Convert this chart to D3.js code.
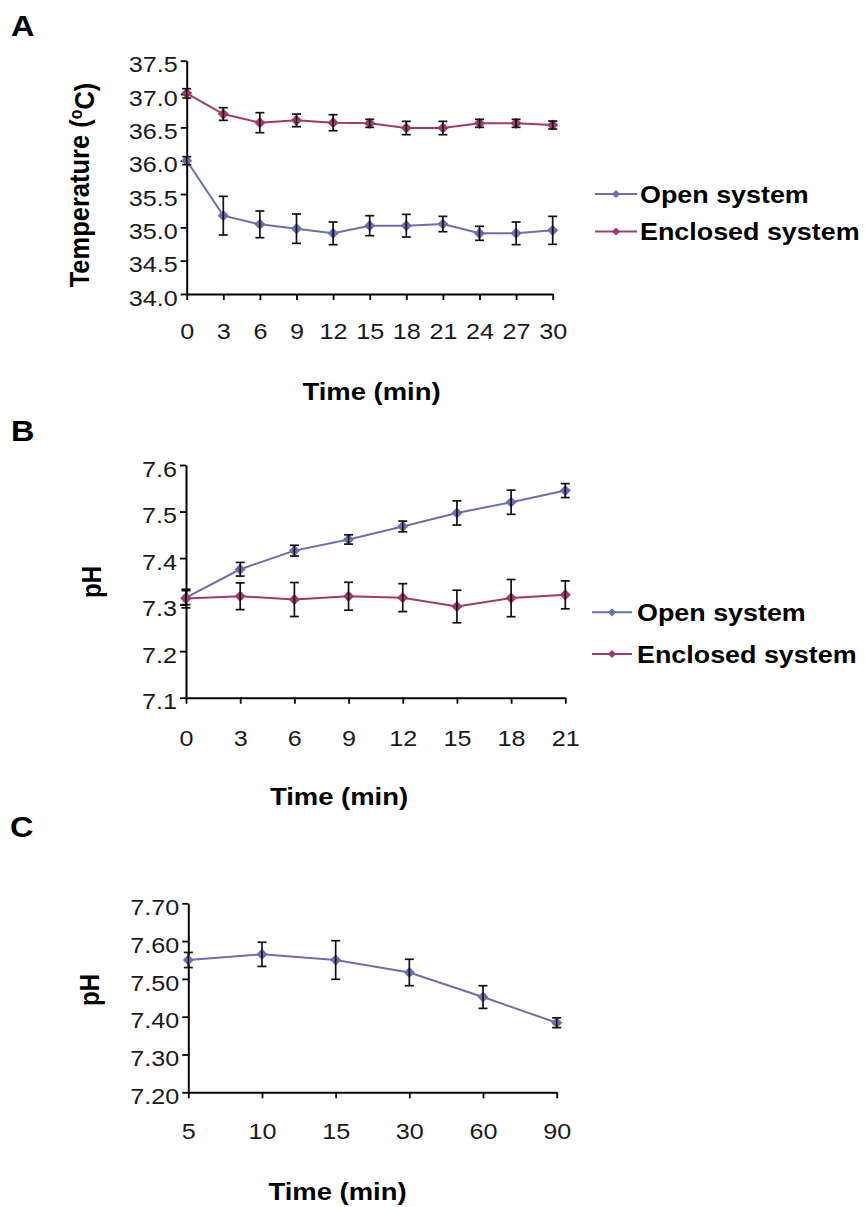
<!DOCTYPE html>
<html>
<head>
<meta charset="utf-8">
<script src="https://cdn.jsdelivr.net/npm/d3@7"></script>
<style>
  html, body { margin: 0; padding: 0; background: #fff; }
  svg { display: block; }
</style>
</head>
<body>
<svg id="chart" width="865" height="1207"></svg>
<script>
// ---------------- DATA ----------------
const timeA = ["0","3","6","9","12","15","18","21","24","27","30"];
const tempOpen = [36.0, 35.175, 35.045, 34.98, 34.91, 35.025, 35.025, 35.05, 34.91, 34.91, 34.955];
const tempOpenErr = [0.06, 0.29, 0.20, 0.22, 0.17, 0.15, 0.17, 0.115, 0.105, 0.17, 0.21];
const tempEnclosed = [37.01, 36.70, 36.57, 36.605, 36.57, 36.56, 36.49, 36.49, 36.56, 36.56, 36.535];
const tempEnclosedErr = [0.07, 0.095, 0.15, 0.095, 0.12, 0.06, 0.10, 0.10, 0.06, 0.06, 0.06];
const tempTicks = [34.0, 34.5, 35.0, 35.5, 36.0, 36.5, 37.0, 37.5];

const timeB = ["0","3","6","9","12","15","18","21"];
const phOpen = [7.315, 7.376, 7.416, 7.440, 7.468, 7.497, 7.520, 7.545];
const phOpenErr = [0.015, 0.0147, 0.0115, 0.010, 0.0115, 0.026, 0.026, 0.015];
const phEnclosed = [7.313, 7.318, 7.311, 7.318, 7.315, 7.296, 7.314, 7.321];
const phEnclosedErr = [0.02, 0.0287, 0.0365, 0.030, 0.030, 0.035, 0.040, 0.030];
const phTicksB = [7.1, 7.2, 7.3, 7.4, 7.5, 7.6];

const timeC = ["5","10","15","30","60","90"];
const phC = [7.550, 7.565, 7.550, 7.517, 7.452, 7.384];
const phCErr = [0.020, 0.032, 0.051, 0.035, 0.030, 0.013];
const phTicksC = [7.20, 7.30, 7.40, 7.50, 7.60, 7.70];

const seriesNames = ["Open system", "Enclosed system"];
// --------------------------------------

const FONT = "'Liberation Sans', Arial, Helvetica, sans-serif";
const SX = 1.12;
const COL_OPEN = "#6b6fae";
const COL_ENC = "#a3386c";
const svg = d3.select("#chart");

function panel(cfg) {
  const g = svg.append("g");
  const x = d3.scalePoint().domain(cfg.cats).range(cfg.xr).padding(0);
  const y = d3.scaleLinear().domain(cfg.yd).range(cfg.yr);

  // axes
  const yAxis = d3.axisLeft(y).tickValues(cfg.ticks).tickFormat(d3.format(cfg.fmt))
    .tickSize(6).tickSizeOuter(0).tickPadding(3);
  const ya = g.append("g").attr("transform", `translate(${cfg.xr[0]},0)`).call(yAxis);
  ya.selectAll("text").attr("dy", "0.5em").attr("x", -9 / SX)
    .attr("transform", `scale(${SX},1)`)
    .style("font-family", FONT).style("font-size", "22.5px").attr("fill", "#1a1a1a");
  const xAxis = d3.axisBottom(x).tickSize(6).tickSizeOuter(0).tickPadding(cfg.xpad);
  const xa = g.append("g").attr("transform", `translate(0,${cfg.yr[0]})`).call(xAxis);
  xa.selectAll("text").attr("transform", `scale(${SX},1)`)
    .attr("x", 0)
    .style("font-family", FONT).style("font-size", "22.5px").attr("fill", "#1a1a1a");
  [ya, xa].forEach(a => {
    a.select(".domain").attr("stroke", "#000").attr("stroke-width", 2);
    a.selectAll(".tick line").attr("stroke", "#000").attr("stroke-width", 1.8);
  });

  const line = d3.line().x((d, i) => x(cfg.cats[i])).y(d => y(d));
  const diamond = d3.symbol(d3.symbolSquare, 62);

  cfg.series.forEach(s => {
    g.append("path").datum(s.values).attr("d", line)
      .attr("fill", "none").attr("stroke", s.color).attr("stroke-width", 2);
    g.selectAll(null).data(s.values).join("path")
      .attr("d", diamond)
      .attr("transform", (d, i) => `translate(${x(cfg.cats[i])},${y(d)}) rotate(45)`)
      .attr("fill", s.color);
  });
  cfg.series.forEach(s => {
    const eb = g.selectAll(null).data(s.values.map((v, i) => ({v, e: s.err[i], c: cfg.cats[i]})))
      .join("g").attr("stroke", "#111").attr("stroke-width", 1.7);
    eb.append("line").attr("x1", d => x(d.c)).attr("x2", d => x(d.c))
      .attr("y1", d => y(d.v - d.e)).attr("y2", d => y(d.v + d.e));
    eb.append("line").attr("x1", d => x(d.c) - 4.5).attr("x2", d => x(d.c) + 4.5)
      .attr("y1", d => y(d.v + d.e)).attr("y2", d => y(d.v + d.e));
    eb.append("line").attr("x1", d => x(d.c) - 4.5).attr("x2", d => x(d.c) + 4.5)
      .attr("y1", d => y(d.v - d.e)).attr("y2", d => y(d.v - d.e));
  });

  // titles
  svg.append("text").text(cfg.letter)
    .attr("transform", `translate(${cfg.letterPos[0]},${cfg.letterPos[1]}) scale(${SX},1)`)
    .style("font-family", FONT).style("font-weight", "bold").style("font-size", "29px");
  svg.append("text").text("Time (min)")
    .attr("text-anchor", "middle")
    .attr("transform", `translate(${cfg.xt[0]},${cfg.xt[1]}) scale(${SX},1)`)
    .style("font-family", FONT).style("font-weight", "bold").style("font-size", "24.5px");
  const yt = svg.append("text")
    .attr("text-anchor", "middle")
    .attr("transform", `translate(${cfg.yt[0]},${cfg.yt[1]}) scale(${SX},1) rotate(-90)`)
    .style("font-family", FONT).style("font-weight", "bold").style("font-size", cfg.ytSize);
  cfg.ytParts(yt);

  // legend
  if (cfg.legend) {
    const L = cfg.legend;
    cfg.series.forEach((s, i) => {
      const cy = L.y[i];
      svg.append("line").attr("x1", L.x0).attr("x2", L.x1).attr("y1", cy).attr("y2", cy)
        .attr("stroke", s.color).attr("stroke-width", 2);
      svg.append("path").attr("d", d3.symbol(d3.symbolSquare, 34)())
        .attr("transform", `translate(${(L.x0 + L.x1) / 2},${cy}) rotate(45)`)
        .attr("fill", s.color);
      svg.append("text").text(s.name)
        .attr("transform", `translate(${L.tx},${cy + 8.8}) scale(${SX},1)`)
        .style("font-family", FONT).style("font-weight", "bold").style("font-size", "24px");
    });
  }
}

// Panel A
panel({
  cats: timeA, xr: [186.7, 552.7], yd: [34.0, 37.5], yr: [294, 60.7],
  ticks: tempTicks, fmt: ".1f", xpad: 23,
  series: [
    {name: seriesNames[0], values: tempOpen, err: tempOpenErr, color: COL_OPEN},
    {name: seriesNames[1], values: tempEnclosed, err: tempEnclosedErr, color: COL_ENC}
  ],
  letter: "A", letterPos: [11, 36],
  xt: [371.5, 400], yt: [89, 185], ytSize: "25.5px",
  ytParts: t => {
    t.append("tspan").text("Temperature (");
    t.append("tspan").text("o").attr("font-size", "0.62em").attr("dy", "-0.42em");
    t.append("tspan").text("C)").attr("dy", "0.42em");
  },
  legend: {x0: 595, x1: 637, tx: 640, y: [194, 231.5]}
});

// Panel B
panel({
  cats: timeB, xr: [186, 565.3], yd: [7.1, 7.6], yr: [697.7, 465],
  ticks: phTicksB, fmt: ".1f", xpad: 26,
  series: [
    {name: seriesNames[0], values: phOpen, err: phOpenErr, color: COL_OPEN},
    {name: seriesNames[1], values: phEnclosed, err: phEnclosedErr, color: COL_ENC}
  ],
  letter: "B", letterPos: [11, 440.7],
  xt: [339, 805], yt: [101, 582], ytSize: "24px",
  ytParts: t => t.text("pH"),
  legend: {x0: 592, x1: 632, tx: 637, y: [612.3, 654]}
});

// Panel C
panel({
  cats: timeC, xr: [188.3, 556.7], yd: [7.2, 7.7], yr: [1092.3, 903.3],
  ticks: phTicksC, fmt: ".2f", xpad: 24.5,
  series: [
    {name: seriesNames[0], values: phC, err: phCErr, color: COL_OPEN}
  ],
  letter: "C", letterPos: [10, 836.7],
  xt: [337.5, 1200], yt: [98.5, 990], ytSize: "24px",
  ytParts: t => t.text("pH"),
  legend: null
});
</script>
</body>
</html>
